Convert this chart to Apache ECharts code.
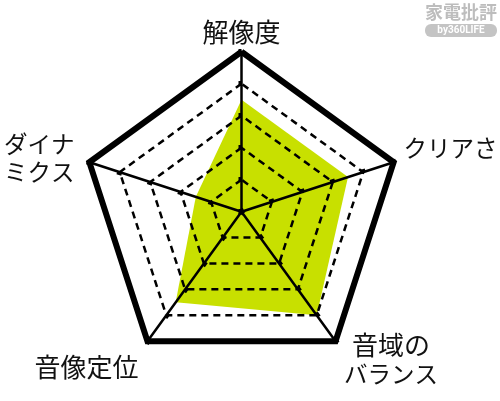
<!DOCTYPE html>
<html>
<head>
<meta charset="utf-8">
<script src="https://cdn.jsdelivr.net/npm/echarts@6/dist/echarts.min.js"></script>
<style>
html,body{margin:0;padding:0;background:#fff;}
#c{width:500px;height:401px;}
</style>
</head>
<body>
<div id="c"></div>
<script>
// indicator order follows ECharts' counter-clockwise layout starting at the top
const indicatorNames = ['解像度', 'ダイナミクス', '音像定位', '音域のバランス', 'クリアさ'];
const indicatorMax = [5, 5, 5, 5, 5];
const scores = [3.5, 1.5, 3.5, 4, 3.5];
const labelText = {
  '解像度': '{t|解像度}',
  'ダイナミクス': '{d|ダイナ}\n{d|ミクス}',
  '音像定位': '{l|音像定位}',
  '音域のバランス': '{r1|音域の}\n{r|バランス}',
  'クリアさ': '{c|クリアさ}'
};
const logoTitle = '家電批評';
const logoSub = 'by360LIFE';

const FONT = '"Noto Sans CJK JP", "Noto Sans", sans-serif';
const indicators = indicatorNames.map((n, i) => ({ name: n, max: indicatorMax[i], min: 0 }));
const center = [241.5, 211.7];
const radius = 160;

const chart = echarts.init(document.getElementById('c'), null, { renderer: 'canvas' });
chart.setOption({
  backgroundColor: '#ffffff',
  animation: false,
  radar: [
    {
      z: 3,
      center: center,
      radius: radius,
      startAngle: 90,
      shape: 'polygon',
      splitNumber: 5,
      indicator: indicators,
      nameGap: 5,
      axisName: {
        color: '#111',
        fontFamily: FONT,
        fontSize: 26,
        lineHeight: 29,
        formatter: (name) => labelText[name] || name,
        rich: {
          t: { fontFamily: FONT, fontSize: 26, lineHeight: 29, color: '#111' },
          c: { fontFamily: FONT, fontSize: 23.5, lineHeight: 29, color: '#111', padding: [0, 0, 25, 5] },
          d: { fontFamily: FONT, fontSize: 23.5, lineHeight: 28, color: '#111', padding: [0, 10, 6, 0] },
          l: { fontFamily: FONT, fontSize: 26, lineHeight: 29, color: '#111', padding: [44, 6, 0, 0] },
          r1: { fontFamily: FONT, fontSize: 26, lineHeight: 29, color: '#111', width: 105, align: 'center', padding: [28, 0, 0, 0] },
          r: { fontFamily: FONT, fontSize: 23.5, lineHeight: 29, color: '#111', width: 105, align: 'center', padding: [28, 0, 0, 0] }
        }
      },
      axisLine: { show: true, lineStyle: { color: '#000', width: 2.5 } },
      axisTick: { show: true, length: 3, lineStyle: { color: '#000', width: 5 } },
      axisLabel: { show: false },
      splitLine: { show: true, lineStyle: { color: '#000', width: 2.5, type: [7, 5] } },
      splitArea: { show: false }
    },
    {
      z: 4,
      center: center,
      radius: radius,
      startAngle: 90,
      shape: 'polygon',
      splitNumber: 1,
      indicator: indicators,
      axisName: { show: false },
      axisLine: { show: false },
      axisTick: { show: false },
      axisLabel: { show: false },
      splitLine: { show: true, lineStyle: { color: '#000', width: 6, join: 'miter' } },
      splitArea: { show: false }
    }
  ],
  series: [
    {
      type: 'radar',
      radarIndex: 0,
      z: 1,
      symbol: 'none',
      lineStyle: { width: 0, opacity: 0 },
      areaStyle: { color: '#c8e000', opacity: 1 },
      data: [{ value: scores, name: 'score' }]
    }
  ],
  graphic: [
    {
      type: 'text', x: 461, y: 12,
      style: { text: logoTitle, fontFamily: FONT, fontWeight: 'bold', fontSize: 18, fill: '#bdbdbd', align: 'center', verticalAlign: 'middle' }
    },
    {
      type: 'rect', x: 425, y: 24,
      shape: { width: 72, height: 13, r: 6 },
      style: { fill: '#c4c4c4' }
    },
    {
      type: 'text', x: 461, y: 30.5,
      style: { text: logoSub, fontFamily: 'Roboto, sans-serif', fontWeight: 'bold', fontSize: 10, fill: '#ffffff', align: 'center', verticalAlign: 'middle' }
    }
  ]
});
</script>
</body>
</html>
